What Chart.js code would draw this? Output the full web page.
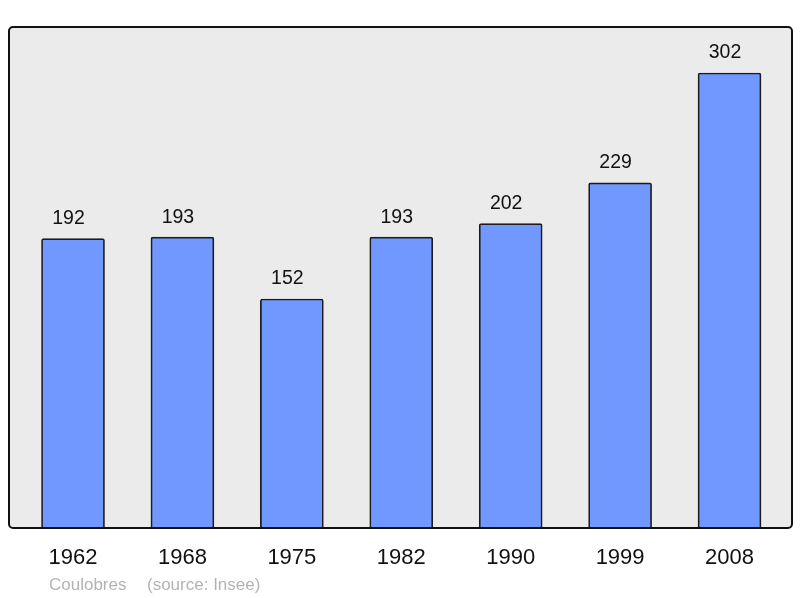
<!DOCTYPE html>
<html>
<head>
<meta charset="utf-8">
<script src="https://cdn.jsdelivr.net/npm/chart.js@4"></script>
<style>
  html, body { margin: 0; padding: 0; background: #ffffff; }
  #wrap { width: 800px; height: 598px; }
</style>
</head>
<body>
<div id="wrap"><canvas id="chart" width="800" height="598"></canvas></div>
<script>
// Population data (Insee)
const years = ['1962', '1968', '1975', '1982', '1990', '1999', '2008'];
const population = [192, 193, 152, 193, 202, 229, 302];

const townName = 'Coulobres';
const sourceText = '(source: Insee)';

// Bar + frame colours
const barFill = 'rgb(112, 152, 255)';
const barEdge = '#1c1c1c';
const frameFill = '#ebebeb';

// Frame background behind the plot area
const framePlugin = {
    id: 'frame',
    beforeDatasetsDraw(chart) {
        const a = chart.chartArea;
        const ctx = chart.ctx;
        ctx.save();
        ctx.fillStyle = frameFill;
        ctx.beginPath();
        ctx.roundRect(a.left, a.top, a.right - a.left, a.bottom - a.top, 4);
        ctx.fill();
        ctx.restore();
    },
    afterDatasetsDraw(chart) {
        const a = chart.chartArea;
        const ctx = chart.ctx;
        ctx.save();
        ctx.strokeStyle = '#111';
        ctx.lineWidth = 2;
        ctx.beginPath();
        ctx.roundRect(a.left, a.top, a.right - a.left, a.bottom - a.top, 4);
        ctx.stroke();

        // value labels above each bar (sit a little left of centre in the original)
        const meta = chart.getDatasetMeta(0);
        ctx.fillStyle = '#111';
        ctx.font = '19.5px "Liberation Sans", Arial, sans-serif';
        ctx.textAlign = 'center';
        ctx.textBaseline = 'middle';
        meta.data.forEach((bar, i) => {
            ctx.fillText(String(population[i]), bar.x - 4.5, bar.y - 20);
        });

        // footer
        ctx.fillStyle = '#b3b3b3';
        ctx.font = '17px "Liberation Sans", Arial, sans-serif';
        ctx.textAlign = 'left';
        ctx.fillText(townName, 49, 585);
        ctx.fillText(sourceText, 147, 585);
        ctx.restore();
    }
};

const ctx = document.getElementById('chart').getContext('2d');
new Chart(ctx, {
    type: 'bar',
    data: {
        datasets: [{
            data: population.map((v, i) => ({ x: i, y: v })),
            backgroundColor: barFill,
            borderColor: barEdge,
            borderWidth: 1.7,
            borderRadius: 2,
            borderSkipped: 'bottom',
            barThickness: 63
        }]
    },
    options: {
        responsive: false,
        animation: false,
        layout: { padding: { left: 9, right: 8, top: 27, bottom: 0 } },
        scales: {
            x: {
                type: 'linear',
                offset: false,
                min: -0.585,
                max: 6.571,
                grid: { display: false, drawTicks: false, offset: false },
                border: { display: false },
                afterBuildTicks: (s) => { s.ticks = years.map((_, i) => ({ value: i })); },
                afterFit: (s) => { s.height = 70; },
                ticks: {
                    padding: 17,
                    maxRotation: 0,
                    color: '#111',
                    font: { size: 22, family: '"Liberation Sans", Arial, sans-serif' },
                    callback: (v) => years[v]
                }
            },
            y: {
                display: false,
                min: 0,
                max: 332.5
            }
        },
        plugins: {
            legend: { display: false },
            tooltip: { enabled: false }
        }
    },
    plugins: [framePlugin]
});
</script>
</body>
</html>
